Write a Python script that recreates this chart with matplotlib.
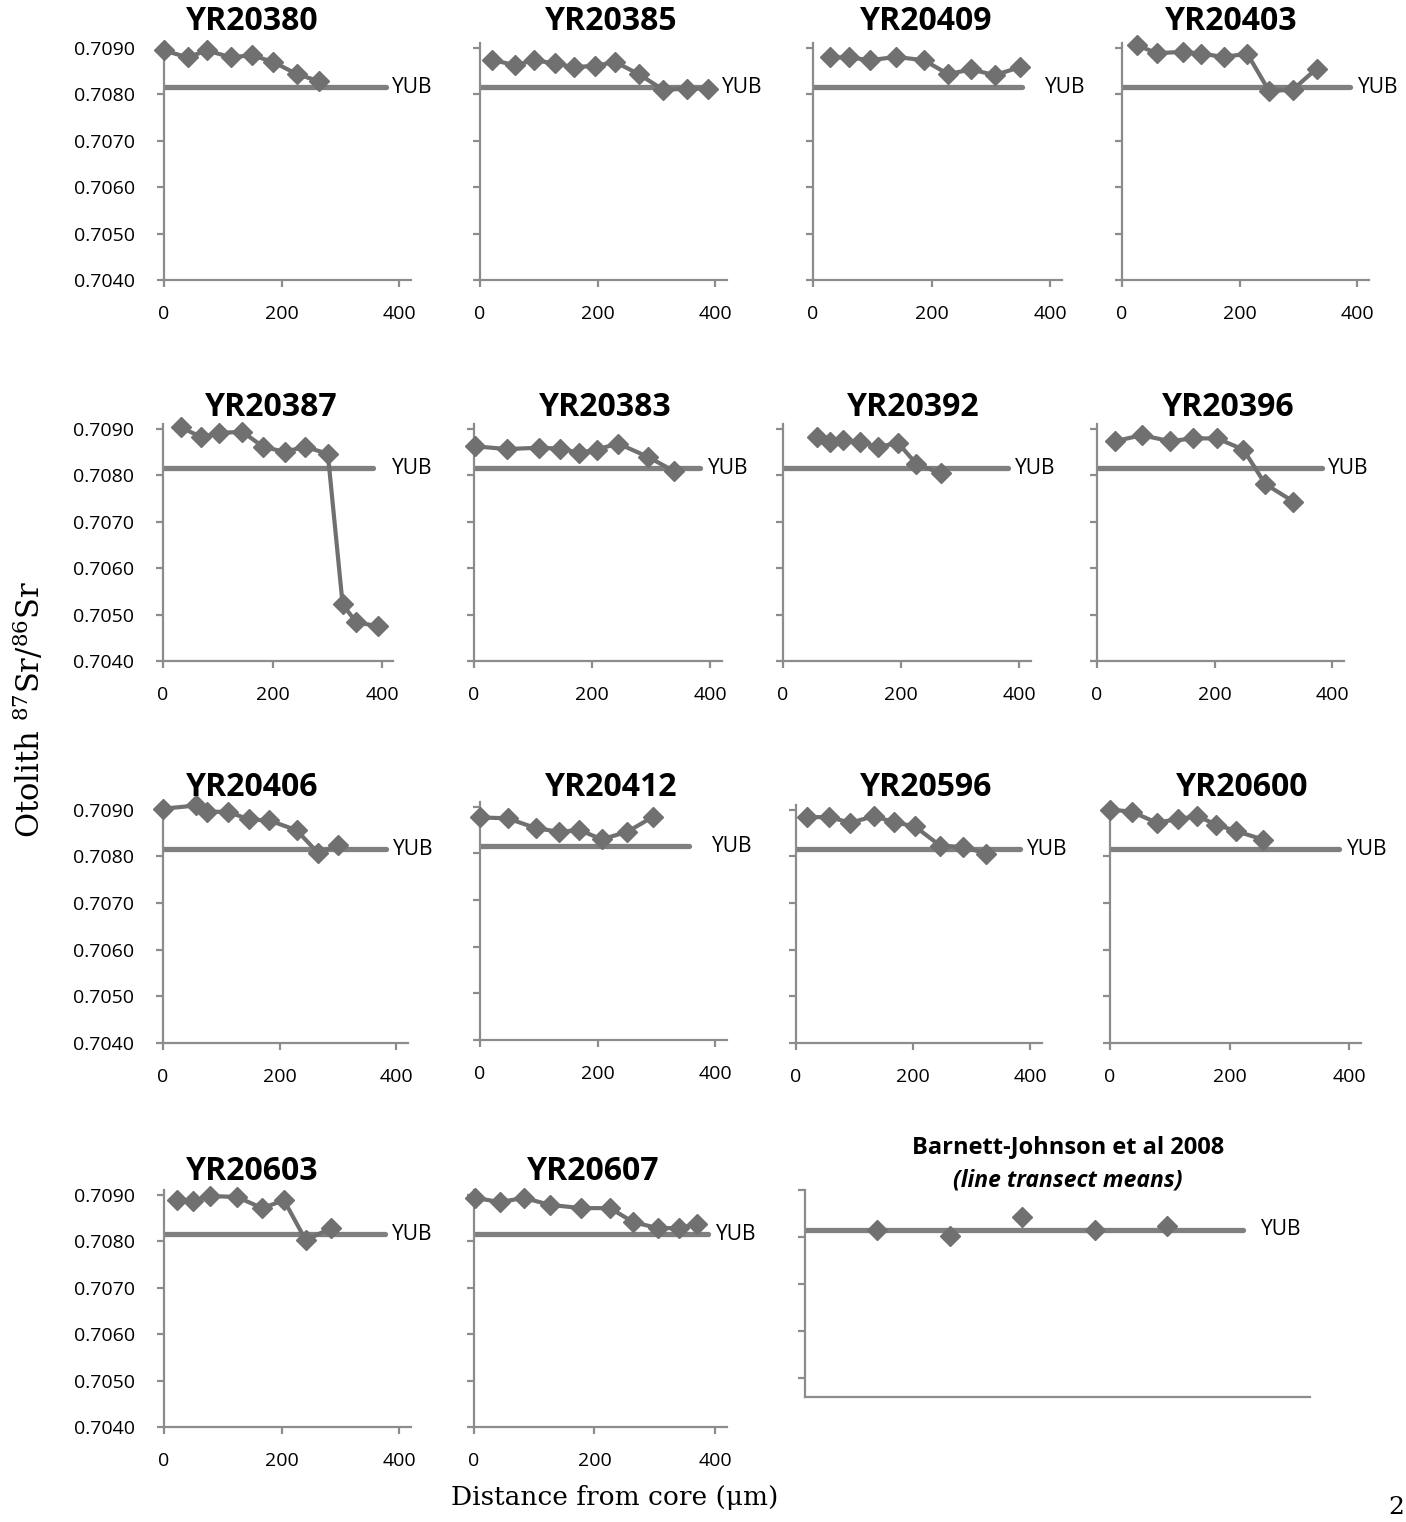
import matplotlib.pyplot as plt

plt.rcParams['font.family'] = ['Open Sans', 'DejaVu Sans']
plt.rcParams['mathtext.fontset'] = 'custom'
plt.rcParams['mathtext.rm'] = 'DejaVu Serif'

# YUB reference value (otolith 87Sr/86Sr)
YUB = 0.70815

# distance from core (um) / Sr ratio per fish
names = ["YR20380", "YR20385", "YR20409", "YR20403",
         "YR20387", "YR20383", "YR20392", "YR20396",
         "YR20406", "YR20412", "YR20596", "YR20600",
         "YR20603", "YR20607"]

d_20380 = [0, 40, 73, 114, 149, 186, 226, 263]
sr_20380 = [0.70894, 0.70879, 0.70894, 0.70879, 0.70884, 0.70869, 0.70843, 0.70828]
d_20385 = [20, 60, 91, 128, 159, 196, 230, 270, 312, 352, 388]
sr_20385 = [0.70874, 0.70862, 0.70873, 0.70866, 0.70858, 0.70861, 0.70869, 0.70843,
            0.70809, 0.70812, 0.70812]
d_20409 = [28, 61, 96, 140, 187, 228, 266, 307, 349]
sr_20409 = [0.70879, 0.70879, 0.70873, 0.70880, 0.70873, 0.70843, 0.70853, 0.70841, 0.70858]
d_20403 = [25, 60, 103, 135, 173, 213, 250, 290, 331]
sr_20403 = [0.70905, 0.70888, 0.70891, 0.70887, 0.70880, 0.70887, 0.70807, 0.70809, 0.70855]

d_20387 = [32, 70, 102, 145, 183, 222, 259, 301, 328, 353, 393]
sr_20387 = [0.70903, 0.70882, 0.70891, 0.70893, 0.70861, 0.70850, 0.70861, 0.70846,
            0.70522, 0.70483, 0.70475]
d_20383 = [2, 56, 110, 146, 178, 208, 244, 295, 338]
sr_20383 = [0.70862, 0.70856, 0.70859, 0.70857, 0.70848, 0.70855, 0.70868, 0.70839, 0.70809]
d_20392 = [57, 79, 102, 130, 161, 195, 226, 267]
sr_20392 = [0.70881, 0.70871, 0.70875, 0.70871, 0.70861, 0.70869, 0.70824, 0.70804]
d_20396 = [31, 76, 124, 163, 204, 249, 286, 334]
sr_20396 = [0.70873, 0.70886, 0.70873, 0.70879, 0.70879, 0.70855, 0.70781, 0.70743]

d_20406 = [0, 57, 76, 112, 148, 182, 229, 266, 300]
sr_20406 = [0.70902, 0.70909, 0.70896, 0.70895, 0.70879, 0.70877, 0.70856, 0.70807, 0.70824]
d_20412 = [0, 47, 95, 135, 169, 207, 250, 294]
sr_20412 = [0.70877, 0.70875, 0.70854, 0.70846, 0.70850, 0.70830, 0.70846, 0.70878]
d_20596 = [18, 57, 93, 133, 168, 203, 246, 285, 325]
sr_20596 = [0.70884, 0.70884, 0.70872, 0.70886, 0.70873, 0.70864, 0.70823, 0.70820, 0.70806]
d_20600 = [0, 36, 78, 114, 146, 178, 211, 256]
sr_20600 = [0.70900, 0.70896, 0.70872, 0.70880, 0.70886, 0.70868, 0.70854, 0.70836]

d_20603 = [22, 49, 78, 124, 167, 204, 241, 284]
sr_20603 = [0.70888, 0.70886, 0.70897, 0.70895, 0.70871, 0.70888, 0.70802, 0.70828]
d_20607 = [2, 43, 83, 126, 178, 226, 264, 305, 340, 370]
sr_20607 = [0.70893, 0.70884, 0.70893, 0.70878, 0.70871, 0.70871, 0.70841, 0.70828,
            0.70828, 0.70837]

# extent of the YUB line (um) per panel
yub_end = [377, 383, 352, 388, 384, 383, 381, 382, 383, 356, 383, 384, 376, 388]
yub_lab = [388, 411, 392, 402, 419, 397, 393, 393, 394, 394, 394, 396, 388, 402]

# Barnett-Johnson et al 2008 line transect means
bj_x = [1, 2, 3, 4, 5]
bj_sr = [0.70815, 0.70802, 0.70843, 0.70815, 0.70824]

dists = [d_20380, d_20385, d_20409, d_20403, d_20387, d_20383, d_20392, d_20396,
         d_20406, d_20412, d_20596, d_20600, d_20603, d_20607]
ratios = [sr_20380, sr_20385, sr_20409, sr_20403, sr_20387, sr_20383, sr_20392, sr_20396,
          sr_20406, sr_20412, sr_20596, sr_20600, sr_20603, sr_20607]

W, H = 1406, 1522
fig = plt.figure(figsize=(W / 100, H / 100), dpi=100)

LINE = '#707070'
REF = '#7f7f7f'
AXC = '#8c8c8c'


def px_axes(l, r, b, t):
    return fig.add_axes([l / W, 1 - b / H, (r - l) / W, (b - t) / H])


def style(ax):
    for s in ['top', 'right']:
        ax.spines[s].set_visible(False)
    for s in ['left', 'bottom']:
        ax.spines[s].set_color(AXC)
        ax.spines[s].set_linewidth(1.6)
    ax.tick_params(colors=AXC, width=1.6, length=5, labelcolor='black', labelsize=14)
    ax.patch.set_alpha(0)


# panel boxes in pixels: left, right, bottom (y=0.7040), top (y=0.7091)
boxes = [(164, 411, 280, 43), (480, 727, 280, 43), (813, 1062, 280, 43), (1122, 1369, 280, 43),
         (163, 393, 661, 424), (474, 722, 661, 424), (783, 1031, 661, 424), (1097, 1344, 661, 424),
         (163, 408, 1043, 805), (480, 727, 1040, 802), (796, 1042, 1043, 805), (1110, 1361, 1043, 805),
         (164, 411, 1427, 1190), (474, 727, 1427, 1190)]
title_pos = [(252, 22), (611, 22), (926, 22), (1231, 22),
             (271, 407), (605, 407), (913, 407), (1228, 407),
             (252, 787), (611, 787), (926, 787), (1242, 787),
             (252, 1172), (593, 1172)]

for i, name in enumerate(names):
    l, r, b, t = boxes[i]
    ax = px_axes(l, r, b, t)
    style(ax)
    ax.plot([0, yub_end[i]], [YUB, YUB], color=REF, lw=3.8, solid_capstyle='round', zorder=2)
    ax.plot(dists[i], ratios[i], color=LINE, lw=3, marker='D', ms=10, zorder=3, clip_on=False)
    ax.text(yub_lab[i], YUB, "YUB", fontsize=15, va='center', ha='left', clip_on=False)
    ax.set_xlim(0, 420)
    ax.set_ylim(0.7040, 0.7091)
    ax.set_xticks([0, 200, 400])
    ax.set_yticks([0.7040, 0.7050, 0.7060, 0.7070, 0.7080, 0.7090])
    ax.tick_params(axis='x', pad=13)
    ax.tick_params(axis='y', pad=16)
    if i % 4 == 0:
        ax.set_yticklabels([f"{v:.4f}" for v in ax.get_yticks()])
    else:
        ax.set_yticklabels([])
    tx, ty = title_pos[i]
    fig.text(tx / W, 1 - ty / H, name, fontsize=23, fontweight='bold', ha='center', va='center')

# Barnett-Johnson panel
ax = px_axes(805, 1310, 1397, 1190)
style(ax)
ax.plot([0, 6.05], [YUB, YUB], color=REF, lw=3.8, solid_capstyle='round', zorder=2)
ax.plot(bj_x, bj_sr, linestyle='none', color=LINE, marker='D', ms=10, zorder=3)
ax.text(6.3, YUB, "YUB", fontsize=15, va='center', ha='left')
ax.set_xlim(0, 6.97)
ax.set_ylim(0.7046, 0.7090)
ax.set_xticks([])
ax.set_yticks([0.7050, 0.7060, 0.7070, 0.7080, 0.7090])
ax.set_yticklabels([])
fig.text(1068 / W, 1 - 1147 / H, "Barnett-Johnson et al 2008", fontsize=17,
         fontweight='bold', ha='center', va='center')
fig.text(1068 / W, 1 - 1181 / H, "(line transect means)", fontsize=16.5,
         fontweight='bold', style='italic', ha='center', va='center')

fig.text(30 / W, 1 - 710 / H, r"Otolith $^{\mathrm{87}}$Sr/$^{\mathrm{86}}$Sr", rotation=90,
         family='DejaVu Serif', fontsize=22, ha='center', va='center')
fig.text(615 / W, 1 - 1497 / H, "Distance from core (\u03bcm)", family='DejaVu Serif',
         fontsize=19, ha='center', va='center')
fig.text(1404 / W, 1 - 1508 / H, "2", family='DejaVu Serif', fontsize=18, ha='right', va='center')

fig.savefig("out.png", dpi=100)
